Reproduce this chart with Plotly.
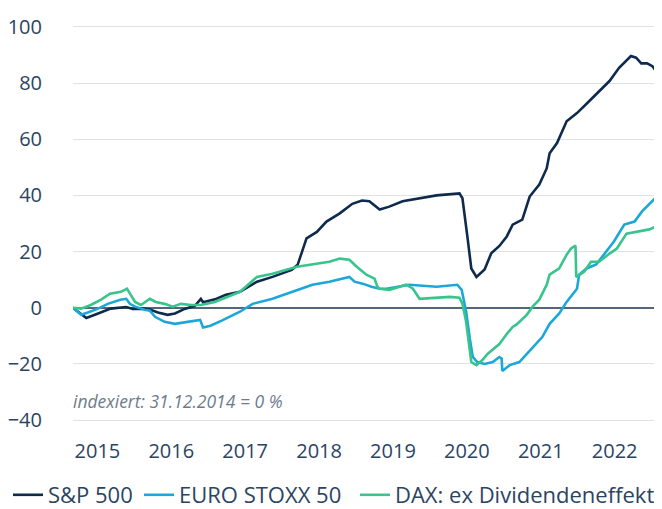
import plotly.graph_objects as go

# decimal years (31.12.2014 = 2015.0), values in % (indexed)
sp_x = [2015.00, 2015.18, 2015.34, 2015.51, 2015.72, 2015.81, 2015.97, 2016.04, 2016.15, 2016.28,
        2016.38, 2016.51, 2016.65, 2016.73, 2016.76, 2016.92, 2017.07, 2017.26, 2017.49, 2017.70,
        2017.96, 2018.04, 2018.10, 2018.16, 2018.30, 2018.43, 2018.61, 2018.78, 2018.91, 2019.01,
        2019.15, 2019.28, 2019.46, 2019.69, 2019.92, 2020.23, 2020.27, 2020.34, 2020.39, 2020.46,
        2020.57, 2020.66, 2020.77, 2020.87, 2020.95, 2021.08, 2021.18, 2021.31, 2021.41, 2021.45,
        2021.55, 2021.68, 2021.82, 2021.96, 2022.12, 2022.26, 2022.39, 2022.55, 2022.62, 2022.69,
        2022.77, 2022.84, 2022.92]
sp_y = [0, -3.6, -2.0, -0.3, 0.3, -0.4, -0.3, -0.6, -1.7, -2.5,
        -2.0, -0.4, 0.7, 3.2, 2.0, 3.0, 4.6, 5.7, 9.3, 11.0,
        13.5, 15.3, 20.0, 24.7, 27.0, 30.7, 33.6, 37.0, 38.2, 37.9,
        35.0, 36.0, 37.9, 39.0, 40.0, 40.7, 39.0, 24.7, 14.0, 11.0,
        13.6, 19.4, 22.0, 25.4, 29.6, 31.4, 39.6, 43.9, 49.6, 55.0,
        58.6, 66.4, 69.3, 72.9, 77.0, 80.7, 85.4, 89.6, 89.0, 87.0,
        87.0, 86.0, 83.2]

es_x = [2015.00, 2015.11, 2015.20, 2015.34, 2015.47, 2015.64, 2015.72, 2015.77, 2015.84, 2015.97,
        2016.04, 2016.11, 2016.24, 2016.38, 2016.55, 2016.72, 2016.76, 2016.86, 2017.02, 2017.26,
        2017.43, 2017.70, 2017.97, 2018.24, 2018.47, 2018.65, 2018.74, 2018.81, 2018.92, 2019.04,
        2019.15, 2019.24, 2019.55, 2019.92, 2020.20, 2020.26, 2020.32, 2020.37, 2020.41, 2020.47,
        2020.57, 2020.68, 2020.77, 2020.80, 2020.81, 2020.91, 2021.04, 2021.08, 2021.22, 2021.35,
        2021.45, 2021.58, 2021.68, 2021.82, 2021.85, 2021.95, 2022.08, 2022.22, 2022.32, 2022.46,
        2022.60, 2022.70, 2022.84, 2022.89, 2022.92]
es_y = [0, -2.5, -1.7, -0.3, 1.4, 2.9, 3.2, 1.4, 0.4, -0.7,
        -1.0, -3.2, -5.0, -5.7, -5.0, -4.3, -7.0, -6.4, -4.5, -1.4,
        1.4, 3.2, 5.7, 8.2, 9.3, 10.4, 11.0, 9.3, 8.6, 7.5,
        6.8, 6.8, 8.2, 7.5, 8.2, 6.4, -1.4, -11.0, -17.5, -19.3,
        -20.0, -19.3, -17.5, -18.0, -22.5, -20.4, -19.3, -18.2, -14.0, -10.4,
        -5.7, -2.0, 2.1, 6.8, 11.8, 14.0, 15.4, 20.0, 23.6, 29.6,
        30.7, 34.3, 37.9, 39.3, 38.6]

dax_x = [2015.00, 2015.11, 2015.24, 2015.38, 2015.50, 2015.65, 2015.73, 2015.77, 2015.84, 2015.92,
         2016.04, 2016.12, 2016.24, 2016.35, 2016.46, 2016.60, 2016.73, 2016.92, 2017.07, 2017.26,
         2017.49, 2017.70, 2018.03, 2018.30, 2018.47, 2018.61, 2018.74, 2018.84, 2018.97, 2019.08,
         2019.12, 2019.15, 2019.28, 2019.51, 2019.60, 2019.69, 2019.92, 2020.10, 2020.23, 2020.27,
         2020.32, 2020.39, 2020.46, 2020.54, 2020.61, 2020.73, 2020.77, 2020.87, 2020.95, 2021.00,
         2021.14, 2021.22, 2021.31, 2021.41, 2021.45, 2021.58, 2021.68, 2021.74, 2021.80, 2021.81,
         2021.92, 2022.01, 2022.12, 2022.26, 2022.36, 2022.49, 2022.66, 2022.80, 2022.86, 2022.92]
dax_y = [0, -0.3, 1.0, 2.9, 5.0, 5.7, 6.8, 5.0, 2.1, 1.0,
         3.2, 2.1, 1.4, 0.4, 1.4, 1.0, 1.0, 2.1, 3.6, 5.7,
         11.0, 12.1, 14.6, 15.7, 16.4, 17.5, 17.1, 14.6, 11.8, 10.4,
         7.5, 6.8, 6.4, 8.2, 6.8, 3.2, 3.6, 3.9, 3.6, 1.4,
         -5.0, -19.3, -20.4, -18.6, -16.4, -14.0, -12.9, -9.3, -6.8, -6.0,
         -2.5, 0.4, 2.9, 8.2, 11.8, 14.0, 18.9, 21.1, 22.1, 11.0,
         12.9, 16.4, 16.4, 19.3, 21.1, 26.4, 27.1, 27.9, 28.6, 27.1]

tick_years = [2015, 2016, 2017, 2018, 2019, 2020, 2021, 2022]
y_ticks = [-40, -20, 0, 20, 40, 60, 80, 100]

FONT = "Open Sans"
TXT = "#2b4462"
W, H = 654, 530   # page body has an 8px margin; bottom beyond the window is unused
ML, MR = 65, 3
PW = W - ML - MR

fig = go.Figure()
fig.add_trace(go.Scatter(x=sp_x, y=sp_y, mode="lines", name="S&P 500", legend="legend",
                         line=dict(color="#0e2a4c", width=2.6)))
fig.add_trace(go.Scatter(x=es_x, y=es_y, mode="lines", name="EURO STOXX 50", legend="legend2",
                         line=dict(color="#1ba8d8", width=2.6)))
fig.add_trace(go.Scatter(x=dax_x, y=dax_y, mode="lines", name="DAX: ex Dividendeneffekt",
                         legend="legend3", line=dict(color="#38c48c", width=2.6)))

fig.add_annotation(x=0, xref="paper", xanchor="left", xshift=-2, y=-33, yref="y",
                   yanchor="middle", text="<i>indexiert: 31.12.2014 = 0 %</i>", showarrow=False,
                   font=dict(family=FONT, size=17.5, color="#6d7c8c"))

LEG_Y = (H - 487) / H


def leg(xpx):
    return dict(orientation="h", xref="paper", yref="container",
                x=(xpx - ML) / PW, xanchor="left", y=LEG_Y, yanchor="middle",
                font=dict(family=FONT, size=22, color=TXT), itemwidth=30,
                bgcolor="rgba(0,0,0,0)")


fig.update_layout(
    width=W, height=H,
    margin=dict(l=ML, r=MR, t=16, b=H - 415),
    paper_bgcolor="white", plot_bgcolor="white",
    font=dict(family=FONT, size=20, color=TXT),
    showlegend=True,
    legend=leg(-10), legend2=leg(131), legend3=leg(347),
    xaxis=dict(range=[2015.0, 2022.93], tickvals=[y + 0.33 for y in tick_years],
               ticktext=[str(y) for y in tick_years], showgrid=False, zeroline=False,
               showline=False, ticks="", ticklabelstandoff=14, automargin=False),
    yaxis=dict(range=[-41, 101], tickvals=y_ticks, showgrid=True, gridcolor="#dfe3e8",
               gridwidth=1.3, zeroline=True, zerolinecolor="#56667a", zerolinewidth=1.5,
               showline=False, ticks="", ticklabelstandoff=30, automargin=False),
)

fig.write_html("out.html")
